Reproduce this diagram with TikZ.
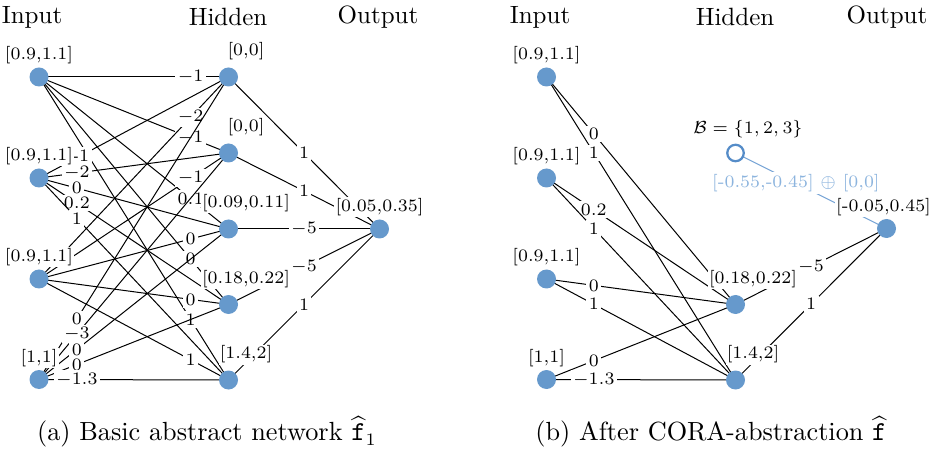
\documentclass[tikz,border=0pt]{standalone}
\usepackage{amsmath,amssymb}
\usetikzlibrary{backgrounds}
\definecolor{nblue}{RGB}{102,153,204}
\definecolor{lblue}{RGB}{140,180,222}
\definecolor{eblue}{RGB}{115,162,212}
\definecolor{hblue}{RGB}{85,140,200}
\begin{document}
\begin{tikzpicture}[x=0.4pt,y=-0.4pt,
  neuron/.style={circle,fill=nblue,minimum size=7.6pt,inner sep=0pt},
  hollow/.style={circle,draw=hblue,line width=0.9pt,fill=white,minimum size=6.6pt,inner sep=0pt},
  nlab/.style={font=\scriptsize,fill=white,inner sep=0.5pt},
  hlab/.style={nlab,xshift=7pt,yshift=2pt},
  wl/.style={font=\scriptsize,fill=white,inner sep=1pt},
  conn/.style={black,line width=0.4pt},
  head/.style={font=\normalsize,inner sep=0pt},
  capt/.style={font=\fontsize{10.5}{12}\selectfont,inner sep=0pt}]
\useasboundingbox (0,0) rectangle (930,451);

% headings
\node[head] (hin1) at (32,17) {Input};
\node[head] (hhid1) at (228,17) {Hidden};
\node[head] (hout1) at (378,17) {Output};
\node[head] (hin2) at (540,17) {Input};
\node[head] (hhid2) at (735,17) {Hidden};
\node[head] (hout2) at (887,17) {Output};

% left network
\node[neuron,label={[nlab,yshift=0.5pt]above:{[0.9,1.1]}}] (i1) at (39,77) {};
\node[neuron,label={[nlab,yshift=0.5pt]above:{[0.9,1.1]}}] (i2) at (39,178) {};
\node[neuron,label={[nlab,yshift=0.5pt]above:{[0.9,1.1]}}] (i3) at (39,279) {};
\node[neuron,label={[nlab,yshift=0.5pt]above:{[1,1]}}] (i4) at (39,379.5) {};
\node[neuron,label={[hlab]above:{[0,0]}}] (h1) at (228.5,77) {};
\node[neuron,label={[hlab]above:{[0,0]}}] (h2) at (228.5,153) {};
\node[neuron,label={[hlab]above:{[0.09,0.11]}}] (h3) at (228.5,229) {};
\node[neuron,label={[hlab]above:{[0.18,0.22]}}] (h4) at (228.5,304.5) {};
\node[neuron,label={[hlab]above:{[1.4,2]}}] (h5) at (228.5,380) {};
\node[neuron,label={[nlab,yshift=0.5pt]above:{[0.05,0.35]}}] (o) at (379.5,229) {};

% right network
\node[neuron,label={[nlab,yshift=0.5pt]above:{[0.9,1.1]}}] (ri1) at (546.5,77) {};
\node[neuron,label={[nlab,yshift=0.5pt]above:{[0.9,1.1]}}] (ri2) at (546.5,178) {};
\node[neuron,label={[nlab,yshift=0.5pt]above:{[0.9,1.1]}}] (ri3) at (546.5,279) {};
\node[neuron,label={[nlab,yshift=0.5pt]above:{[1,1]}}] (ri4) at (546.5,379.5) {};
\node[hollow,label={[hlab,xshift=-2pt,yshift=-0.5pt]above:{$\mathcal{B}=\{1,2,3\}$}}] (rh0) at (735.5,153) {};
\node[neuron,label={[hlab]above:{[0.18,0.22]}}] (rh4) at (735.5,304.5) {};
\node[neuron,label={[hlab]above:{[1.4,2]}}] (rh5) at (735.5,380) {};
\node[neuron,label={[nlab,xshift=-1.2pt,yshift=0.5pt]above:{[-0.05,0.45]}}] (ro) at (886.5,228.5) {};

\begin{pgfonlayer}{background}
% I1
\foreach \h/\w in {1/-1,2/-1,3/0.1,4/0,5/1}
  \draw[conn] (i1.center) -- node[wl,pos=0.8] {$\w$} (h\h.center);
% I2
\draw[conn] (i2.center) -- node[wl,pos=0.22] {-1} (h1.center);
\foreach \h/\w in {2/-2,3/0,4/0.2,5/1}
  \draw[conn] (i2.center) -- node[wl,pos=0.2] {$\w$} (h\h.center);
% I3
\foreach \h/\w in {1/-2,2/-1,3/0,4/0,5/1}
  \draw[conn] (i3.center) -- node[wl,pos=0.8] {$\w$} (h\h.center);
% I4
\foreach \h/\w in {1/0,2/-3,3/0,4/0,5/-1.3}
  \draw[conn] (i4.center) -- node[wl,pos=0.2] {$\w$} (h\h.center);
% hidden to output
\foreach \h/\w in {1/1,2/1,3/-5,4/-5,5/1}
  \draw[conn] (h\h.center) -- node[wl,pos=0.5] {$\w$} (o.center);

% right
\draw[conn] (ri1.center) -- node[wl,pos=0.25] {$0$} (rh4.center);
\draw[conn] (ri1.center) -- node[wl,pos=0.25] {$1$} (rh5.center);
\draw[conn] (ri2.center) -- node[wl,pos=0.25] {$0.2$} (rh4.center);
\draw[conn] (ri2.center) -- node[wl,pos=0.25] {$1$} (rh5.center);
\draw[conn] (ri3.center) -- node[wl,pos=0.25] {$0$} (rh4.center);
\draw[conn] (ri3.center) -- node[wl,pos=0.25] {$1$} (rh5.center);
\draw[conn] (ri4.center) -- node[wl,pos=0.25] {$0$} (rh4.center);
\draw[conn] (ri4.center) -- node[wl,pos=0.25] {$-1.3$} (rh5.center);
\draw[conn] (rh4.center) -- node[wl,pos=0.5] {$-5$} (ro.center);
\draw[conn] (rh5.center) -- node[wl,pos=0.5] {$1$} (ro.center);
\draw[eblue,line width=0.4pt] (rh0.center) -- node[wl,pos=0.4,text=lblue] {[-0.55,-0.45] $\oplus$ [0,0]} (ro.center);
\end{pgfonlayer}

% captions
\node[capt] (capa) at (207,432) {(a) Basic abstract network $\widehat{\mathtt{f}}_1$};
\node[capt] (capb) at (711,432) {(b) After CORA-abstraction $\widehat{\mathtt{f}}$};
\end{tikzpicture}
\end{document}
